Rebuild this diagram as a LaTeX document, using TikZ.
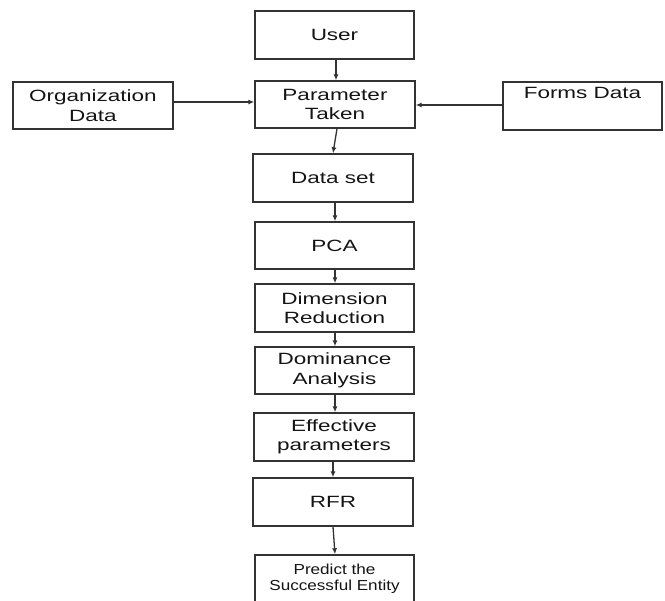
\documentclass[tikz,border=0pt]{standalone}
\usepackage{fontspec}
\setmainfont{Liberation Sans}[FakeStretch=1.38]
\newfontfamily\predfont{Liberation Sans}[FakeStretch=1.18]
\usetikzlibrary{arrows.meta}
\definecolor{linec}{HTML}{333333}
\definecolor{textc}{HTML}{141414}
\begin{document}
\begin{tikzpicture}[x=1pt,y=-1pt,
  box/.style={draw=linec, line width=1.4pt, rectangle, inner sep=0pt, align=center,
    text=textc, font=\fontsize{16.3}{19.5}\selectfont},
  arr/.style={draw=linec, line width=1.3pt, -{Latex[length=6pt,width=5pt]}}]
\useasboundingbox (0,0) rectangle (665,601);
\clip (0,0) rectangle (665,601);
\fill[white] (0,0) rectangle (665,601);
\node[box, minimum width=159pt, minimum height=48pt] (user) at (334.5,35) {User};
\node[box, minimum width=160pt, minimum height=47pt] (param) at (335,104.5) {Parameter\\Taken};
\node[box, minimum width=160pt, minimum height=47pt] (org) at (93,105.5) {Organization\\Data};
\node[box, minimum width=159pt, minimum height=48pt] (forms) at (582.5,106) {Forms Data\\\strut};
\node[box, minimum width=160pt, minimum height=48pt] (data) at (333,178) {Data set};
\node[box, minimum width=159pt, minimum height=47pt] (pca) at (334.5,245.5) {PCA};
\node[box, minimum width=159pt, minimum height=48pt] (dim) at (334.5,308) {Dimension\\Reduction};
\node[box, minimum width=159pt, minimum height=47pt] (dom) at (334.5,370.5) {Dominance\\Analysis};
\node[box, minimum width=160pt, minimum height=48pt] (eff) at (334,437) {Effective\\parameters};
\node[box, minimum width=160pt, minimum height=48pt] (rfr) at (333,502) {RFR};
\node[box, minimum width=159pt, minimum height=48pt, font=\predfont\fontsize{14.5}{16}\selectfont] (pred) at (334.5,579) {Predict the\\Successful Entity};
\draw[arr] ([xshift=1.5pt]user.south) -- ([xshift=1.5pt]user.south |- param.north);
\draw[arr] ([yshift=3.5pt]org.east) coordinate (oa) -- (oa -| param.west);
\draw[arr] ([yshift=1pt]forms.west) coordinate (fa) -- (fa -| param.east);
\draw[arr] ([xshift=2pt]param.south) -- (data.north);
\draw[arr] ([xshift=2pt]data.south) -- ([xshift=2pt]data.south |- pca.north);
\draw[arr] ([xshift=0.5pt]pca.south) -- ([xshift=0.5pt]pca.south |- dim.north);
\draw[arr] ([xshift=0.5pt]dim.south) -- ([xshift=0.5pt]dim.south |- dom.north);
\draw[arr] ([xshift=0.5pt]dom.south) -- ([xshift=0.5pt]dom.south |- eff.north);
\draw[arr] ([xshift=-1pt]eff.south) -- ([xshift=-1pt]eff.south |- rfr.north);
\draw[arr] (rfr.south) -- ([xshift=0.5pt]pred.north);
\end{tikzpicture}
\end{document}
